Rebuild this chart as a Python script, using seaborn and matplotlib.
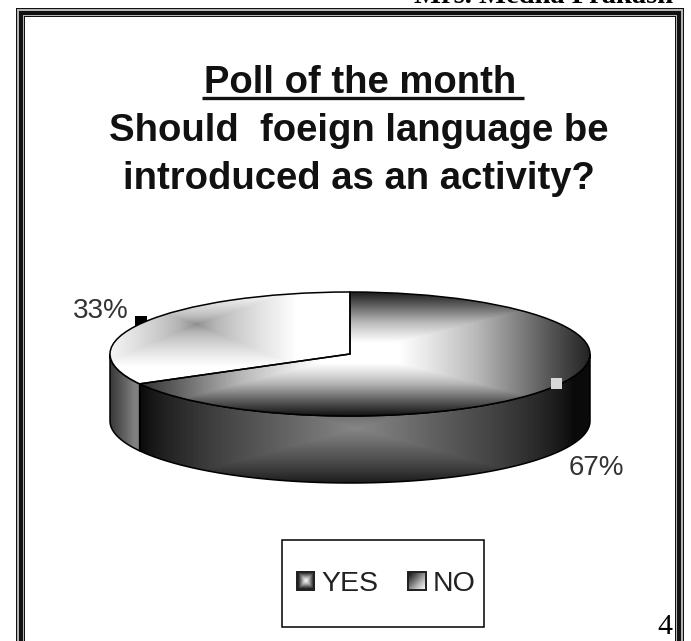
import numpy as np
import matplotlib
matplotlib.use("Agg")
import matplotlib.pyplot as plt
from matplotlib.patches import Rectangle, Polygon
import seaborn as sns

categories = ["YES", "NO"]
shares = [67, 33]
title_head = "Poll of the month "
title_body = ["Should  foeign language be", "introduced as an activity?"]
header = "Mrs. Medha Prakash"
page = "4"

W, H = 691, 641
CX, CY, RX, RY, DEPTH = 350, 354, 240, 62, 67

sns.set_theme(style="white")
plt.rcParams["font.family"] = ["Liberation Sans", "DejaVu Sans"]

fig = plt.figure(figsize=(W / 100, H / 100), dpi=100, facecolor="white")


def px_axes(z):
    a = fig.add_axes([0, 0, 1, 1], zorder=z)
    a.set_xlim(0, W)
    a.set_ylim(H, 0)
    a.axis("off")
    a.patch.set_alpha(0)
    return a


back = px_axes(0)
pie_ax = fig.add_axes([0, 0, 1, 1], zorder=1)
top = px_axes(2)

# Page border: nested bands, open at the bottom
bands = [(0, "#111111"), (1.2, "#b5b5b5"), (3, "#111111"), (7, "#b5b5b5"), (8, "#111111"), (9.2, "white")]
for inset, col in bands:
    back.add_patch(Rectangle((16 + inset, 8 + inset), 668 - 2 * inset, 700, fc=col, ec="none"))
back.add_patch(Rectangle((135, 316), 12, 10, fc="black", ec="none"))

# Pie surface: the axes scale turns the unit circle into the tilted ellipse
wedges, _ = pie_ax.pie(shares, startangle=90, counterclock=False, radius=1, center=(0, 0),
                       colors=["none", "none"], wedgeprops=dict(edgecolor="black", linewidth=1.1))
lim = dict(xlim=(-CX / RX, (W - CX) / RX), ylim=(-(H - CY) / RY, CY / RY))
depth = DEPTH / RY

shade = sns.blend_palette(["#050505", "#5a5a5a", "#b8b8b8", "#ffffff"], as_cmap=True)
xs = np.linspace(lim["xlim"][0], lim["xlim"][1], W)
ys = np.linspace(lim["ylim"][1], lim["ylim"][0], H)
gx, gy = np.meshgrid(xs, ys)
extent = (lim["xlim"][0], lim["xlim"][1], lim["ylim"][0], lim["ylim"][1])


def box(c_x, c_y, sx, sy_up, sy_down=None):
    sy_down = sy_up if sy_down is None else sy_down
    dx = np.abs(gx - c_x) / sx
    dy = np.where(gy > c_y, (gy - c_y) / sy_up, (c_y - gy) / sy_down)
    return np.clip(np.maximum(dx, dy), 0, 1)


def paint(value, clip, z):
    im = pie_ax.imshow(value, extent=extent, cmap=shade, vmin=0, vmax=1, aspect="auto", zorder=z, interpolation="bilinear")
    im.set_clip_path(clip)


def side(t0, t1, z, value):
    t = np.radians(np.linspace(t0, t1, 120))
    pts = np.r_[np.c_[np.cos(t), np.sin(t)], np.c_[np.cos(t[::-1]), np.sin(t[::-1]) - depth]]
    poly = Polygon(pts, closed=True, fc="none", ec="black", lw=1.1, zorder=z + 1, transform=pie_ax.transData)
    pie_ax.add_patch(poly)
    paint(value, poly, z)


yes_w, no_w = wedges
cut = max(no_w.theta1, no_w.theta2) % 360
side(cut, 360, 2, 0.02 + 0.47 * (1 - box(0.03, -1.2, 0.9, 0.95, 0.95)) ** 0.75)
side(180, cut, 2, 0.2 + 0.27 * np.clip((gx + 1) / 0.1, 0, 1))

yes_val = 1 - np.clip((box(0.04, 0.02, 1.0, 1.0) - 0.16) / 0.84, 0, 1) ** 1.1 * 0.93
no_val = 0.5 + 0.5 * box(-0.64, 0.48, 0.42, 0.55, 0.68) ** 0.7
for w, val in zip(wedges, [yes_val, no_val]):
    w.set_zorder(6)
    im = pie_ax.imshow(val, extent=extent, cmap=shade, vmin=0, vmax=1, aspect="auto", zorder=5, interpolation="bilinear")
    im.set_clip_path(w.get_path(), w.get_transform())

pie_ax.set(**lim)
pie_ax.set_aspect("auto")
pie_ax.axis("off")
pie_ax.patch.set_alpha(0)

# Texts
TITLE = dict(fontsize=27.5, fontweight="bold", ha="left", va="baseline", color="#111111")
top.text(204, 93, title_head, **TITLE)
top.plot([202, 524], [98, 98], color="#111111", lw=2.4, solid_capstyle="butt")
top.text(109, 141, title_body[0], **TITLE)
top.text(123, 189, title_body[1], **TITLE)
top.text(544, 3, header, family=["Liberation Serif"], fontweight="bold", fontsize=20.5, ha="center", va="baseline", color="black")
top.text(665, 634, page, family=["Liberation Serif"], fontsize=21.5, ha="center", va="baseline", color="black")

top.text(101, 318, f"{shares[1]}%", fontsize=20, ha="center", va="baseline", color="#333333")
top.text(596, 475, f"{shares[0]}%", fontsize=20, ha="center", va="baseline", color="#333333")
top.add_patch(Rectangle((551, 378), 11, 11, fc="#d8d8d8", ec="none"))

# Legend
top.add_patch(Rectangle((282, 540), 202, 87, fc="white", ec="black", lw=1.1, zorder=4))
leg = top.legend(wedges, categories, loc="center", bbox_to_anchor=(386, 584), bbox_transform=top.transData,
                 frameon=False, fontsize=20.5, ncol=2, handlelength=0.62, handleheight=0.62,
                 handletextpad=0.24, columnspacing=1.05, borderpad=0, labelcolor="#222222")
leg.set_zorder(5)
fig.canvas.draw()
inv = top.transData.inverted()
u, v = np.meshgrid(np.linspace(-1, 1, 30), np.linspace(-1, 1, 30))
kinds = [1 - np.maximum(np.abs(u), np.abs(v)), (u + v + 2) / 4]
for h, val in zip(leg.legend_handles, kinds):
    bb = h.get_window_extent()
    (x0, y0), (x1, y1) = inv.transform([(bb.x0, bb.y0), (bb.x1, bb.y1)])
    top.imshow(val, extent=(x0, x1, y0, y1), cmap=shade, vmin=0, vmax=1, aspect="auto", zorder=6)
    top.add_patch(Rectangle((x0, min(y0, y1)), x1 - x0, abs(y1 - y0), fc="none", ec="#222222", lw=1.4, zorder=7))
top.set_xlim(0, W)
top.set_ylim(H, 0)

fig.savefig("out.png", dpi=100)
